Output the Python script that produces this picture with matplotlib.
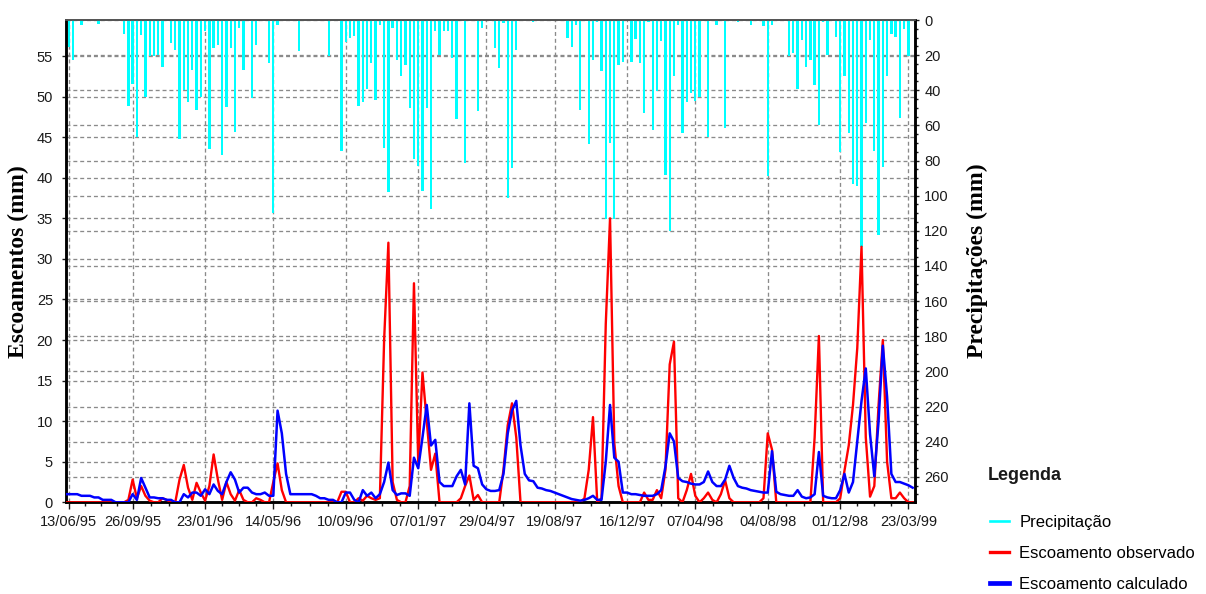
import matplotlib
matplotlib.use('Agg')
import matplotlib.pyplot as plt
import matplotlib.dates as mdates
from matplotlib.lines import Line2D
from matplotlib.ticker import MultipleLocator, FixedLocator
import numpy as np

# semanas: 06/06/1995 ... 30/03/1999 (200 valores)
inicio = np.datetime64('1995-06-06')
semanas = inicio + np.arange(200) * np.timedelta64(7, 'D')

precipitacao = [
    0,
    15.5, 23, 0, 2.8, 0, 0, 0, 2, 0, 0,
    0, 0, 0, 8, 48.7, 36.5, 66.5, 8.7, 44, 20.3,
    20.3, 20, 26.5, 0, 13.2, 16.8, 68, 40, 46.8, 28.7,
    51, 44, 6.5, 73.3, 15.8, 14.2, 77, 49.5, 15.8, 63.6,
    4.5, 28.2, 0, 44.3, 14.2, 0, 0, 24.7, 109.6, 2.6,
    0, 0, 0, 0, 17.8, 0, 0, 0, 0, 0,
    0, 20.3, 0, 0, 74.4, 12.7, 10.2, 9, 48.7, 46.8,
    39.4, 24.6, 45.8, 2.6, 72.6, 98, 4.5, 22.8, 31.9, 25.7,
    50.2, 79.3, 83, 97.2, 50.2, 107.7, 6.4, 19.7, 6.2, 6.2,
    21.9, 56.5, 0, 81.3, 0, 0, 52, 4.6, 0, 0,
    16.1, 27.5, 1.9, 101.3, 84, 17, 0, 0, 0, 1,
    0, 0, 0, 0, 0, 0, 0, 10.2, 15.2, 2.6,
    51.3, 0, 70.6, 23, 1, 29.2, 113.4, 69.8, 113.4, 25.6,
    23.8, 0, 23.8, 10.7, 24.7, 53, 1, 62.6, 40.6, 11.9,
    88.5, 120, 31.9, 2.6, 64.5, 46.7, 41.7, 46, 44, 0,
    66.8, 0, 2.6, 0, 61.7, 0, 0, 1, 0, 0,
    2.6, 0, 0, 3.4, 89, 2.6, 0, 0, 0, 20.3,
    19, 39.4, 11.4, 26.5, 22.9, 37.1, 59.7, 1.1, 20, 0,
    9.5, 75.3, 31.9, 64.5, 93.5, 94.5, 129, 58.5, 11.4, 74.3,
    122.5, 83.7, 31.9, 8, 9.5, 55.8, 5.2, 20.5, 0,
]

observado = [
    0,
    0, 0, 0, 0, 0, 0, 0, 0, 0, 0,
    0, 0, 0, 0, 0.3, 2.8, 0.5, 2.0, 0.8, 0.2,
    0, 0, 0.5, 0.3, 0, 0, 2.8, 4.6, 1.8, 0.3,
    2.4, 1.2, 0.2, 2.0, 5.9, 2.8, 0.3, 2.5, 1.0, 0.2,
    1.5, 0.3, 0, 0, 0.5, 0.3, 0, 0, 2.5, 4.8,
    1.5, 0, 0, 0, 0, 0, 0, 0, 0, 0,
    0, 0, 0, 0, 1.3, 1.3, 0, 0, 0.5, 0.2,
    0.8, 0.5, 0.3, 0.5, 20, 32, 2.5, 0.3, 0, 0,
    2, 27, 5, 16, 10, 4, 6, 0, 0, 0,
    0, 0, 0.5, 2.0, 3.3, 0.3, 0.9, 0, 0, 0,
    0, 0, 4, 9.5, 12.2, 8, 0, 0, 0, 0,
    0, 0, 0, 0, 0, 0, 0, 0, 0, 0,
    0, 0.5, 4, 10.5, 0, 0.5, 22, 35, 7.3, 2,
    0, 0, 0, 0, 0, 1.2, 0.3, 0.3, 1.5, 0.5,
    4, 17, 19.8, 0.5, 0, 1.5, 3.5, 0.8, 0, 0.5,
    1.2, 0.3, 0, 1.0, 2.7, 0.5, 0, 0, 0, 0,
    0, 0, 0, 0.5, 8.5, 6.5, 0, 0, 0, 0,
    0, 0, 0, 0, 0, 8, 20.5, 0, 0, 0,
    0, 0.5, 3.9, 7, 12, 19, 31.5, 8, 0.7, 2,
    12, 20, 5, 0.5, 0.5, 1.2, 0.5, 0, 0,
]

calculado = [
    1.0,
    1.0, 1.0, 1.0, 0.8, 0.8, 0.8, 0.6, 0.6, 0.3, 0.3,
    0.3, 0, 0, 0, 0, 1.0, 0.3, 3.0, 1.8, 0.6,
    0.6, 0.5, 0.5, 0.3, 0.3, 0, 0, 1.0, 0.6, 1.2,
    1.2, 0.8, 1.6, 1.0, 2.2, 1.4, 1.0, 2.5, 3.7, 2.8,
    1.2, 1.8, 1.8, 1.2, 1.0, 1.0, 1.2, 0.8, 0.8, 11.3,
    8.5, 3.5, 1.0, 1.0, 1.0, 1.0, 1.0, 1.0, 0.8, 0.5,
    0.5, 0.3, 0.3, 0, 0, 1.2, 1.2, 0.3, 0, 1.5,
    0.8, 1.2, 0.5, 1.0, 2.5, 4.9, 1.5, 0.9, 1.1, 1.1,
    0.8, 5.5, 4.2, 8, 12, 7, 7.7, 2.5, 2.0, 2.0,
    2.0, 3.2, 4.0, 2.2, 12.2, 4.5, 4.2, 2.2, 1.6, 1.4,
    1.4, 1.5, 3.5, 8.5, 11.3, 12.5, 7, 3.5, 2.7, 2.6,
    1.8, 1.7, 1.5, 1.4, 1.2, 1.0, 0.8, 0.6, 0.4, 0.3,
    0.2, 0.3, 0.5, 0.8, 0.3, 0.3, 5, 12, 5.5, 5,
    1.2, 1.2, 1.0, 1.0, 0.9, 0.8, 0.8, 0.8, 1.0, 1.5,
    4.4, 8.5, 7.5, 3.0, 2.6, 2.5, 2.3, 2.2, 2.2, 2.5,
    3.8, 2.5, 2.0, 2.0, 2.8, 4.5, 3.0, 2.0, 1.8, 1.7,
    1.5, 1.4, 1.3, 1.2, 1.2, 6.3, 1.3, 1.0, 0.9, 0.8,
    0.8, 1.5, 0.7, 0.5, 0.6, 1.0, 6.2, 0.8, 0.6, 0.5,
    0.5, 1.5, 3.5, 1.2, 2.5, 7.5, 12.5, 16.5, 8.4, 3.2,
    10, 19.3, 13, 3.5, 2.5, 2.5, 2.3, 2.1, 1.8,
]

datas_eixo = ['1995-06-13', '1995-09-26', '1996-01-23', '1996-05-14', '1996-09-10',
              '1997-01-07', '1997-04-29', '1997-08-19', '1997-12-16', '1998-04-07',
              '1998-08-04', '1998-12-01', '1999-03-23']
ticks_esc = np.arange(0, 56, 5)
ticks_prec = np.arange(0, 261, 20)

W, H = 1206, 594
grid_kw = dict(color='#8a8a8a', lw=0.95, ls=(0, (3, 2.2)))
txt = '#1a1a1a'

fig = plt.figure(figsize=(W / 100, H / 100), dpi=100)
ax = fig.add_axes([65.5 / W, 1 - 502.3 / H, 849 / W, 482.3 / H])
ax2 = ax.twinx()
ax.set_zorder(ax2.get_zorder() + 1)
ax.patch.set_visible(False)

datas_tick = np.array(datas_eixo, dtype='datetime64[D]')
x0 = np.datetime64('1995-06-07T18:00')
x1 = np.datetime64('1999-04-02')

# precipitação (barras penduradas do topo, eixo direito invertido)
ax2.bar(semanas, precipitacao, width=3.8, color='#00FFFF', zorder=3)
ax2.set_ylim(274.5, 0)
ax2.set_yticks(ticks_prec)
ax2.yaxis.set_minor_locator(MultipleLocator(5))
ax2.grid(axis='y', zorder=0, **grid_kw)
for v in ticks_esc[1:]:
    ax2.plot([0, 1], [v, v], transform=ax.get_yaxis_transform(), zorder=0, **grid_kw)
for d in datas_tick:
    ax2.axvline(d, zorder=0, **grid_kw)

# escoamentos
ax.plot(semanas, observado, color='#FF0000', lw=1.7, zorder=3)
ax.plot(semanas, calculado, color='#0000FF', lw=1.8, zorder=4)
ax.set_xlim(x0, x1)
ax.set_ylim(0, 59.45)
ax.set_yticks(ticks_esc)

ax.xaxis.set_major_locator(FixedLocator(mdates.date2num(datas_tick)))
ax.xaxis.set_major_formatter(mdates.DateFormatter('%d/%m/%y'))
num = mdates.date2num(datas_tick)
menores = np.concatenate([num[i] + (num[i + 1] - num[i]) * np.array([0.25, 0.5, 0.75])
                          for i in range(len(num) - 1)])
ax.xaxis.set_minor_locator(FixedLocator(menores))

fonte = 'Liberation Sans'
ax.tick_params(axis='x', which='major', length=5, width=1, pad=4, labelsize=10.5, colors=txt)
ax.tick_params(axis='x', which='minor', length=3, width=1, colors=txt)
ax.tick_params(axis='y', length=3, width=1, pad=6, labelsize=10.5, colors=txt)
ax2.tick_params(axis='y', which='major', length=3, width=1, pad=4, labelsize=10.5, colors=txt)
ax2.tick_params(axis='y', which='minor', length=2, width=1, colors=txt)
for lab in ax.get_xticklabels() + ax.get_yticklabels() + ax2.get_yticklabels():
    lab.set_family(fonte)

for a in (ax, ax2):
    for s in ('left', 'right', 'bottom'):
        a.spines[s].set_color('black')
        a.spines[s].set_linewidth(1.8)
    a.spines['top'].set_color('#555555')
    a.spines['top'].set_linewidth(1.3)

ax.set_ylabel('Escoamentos (mm)', family='Liberation Serif', fontweight='bold', fontsize=17)
ax.yaxis.set_label_coords(-0.043, 0.5)
ax2.set_ylabel('Precipitações (mm)', family='Liberation Serif', fontweight='bold', fontsize=17)
ax2.yaxis.set_label_coords(1.0618, 0.5)

# legenda
fig.text(988 / W, 1 - 475 / H, 'Legenda', family=fonte, fontweight='bold', fontsize=13,
         ha='left', va='center', color=txt)
itens = [Line2D([], [], color='#00FFFF', lw=1.9),
         Line2D([], [], color='#FF0000', lw=2.4),
         Line2D([], [], color='#0000FF', lw=3.4)]
fig.legend(itens, ['Precipitação', 'Escoamento observado', 'Escoamento calculado'],
           loc='upper left', bbox_to_anchor=(990 / W, 1 - 515 / H), frameon=False,
           prop={'family': fonte, 'size': 12}, handlelength=1.15, handletextpad=0.6,
           labelspacing=0.95, borderpad=0, borderaxespad=0)

fig.savefig('out.png', dpi=100)
